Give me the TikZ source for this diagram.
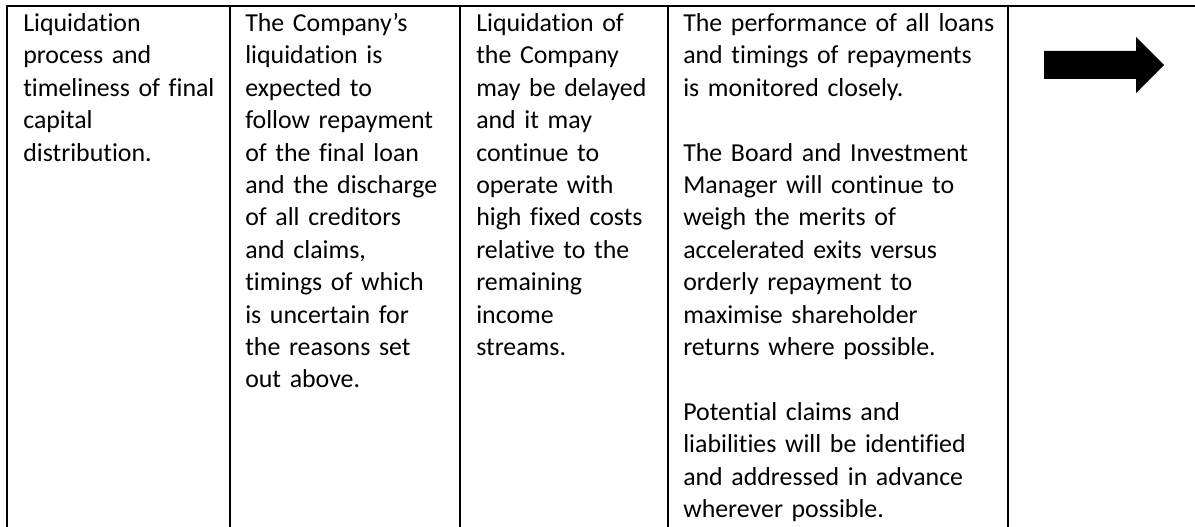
\documentclass[tikz,border=0pt]{standalone}
\usepackage{fontspec}
\setmainfont[Ligatures=NoCommon]{Carlito}
\begin{document}
\begin{tikzpicture}[x=0.75pt,y=-0.75pt,
  cell/.style={anchor=base west, inner sep=0pt, align=left, text width=270pt,
    font=\fontsize{19.4}{24.3}\selectfont},
  rule/.style={line width=1.5pt, black, line cap=rect},
  bigarrow/.style={fill=black, draw=none}]
\useasboundingbox (0,0) rectangle (1195,527);
% table rules
\draw[rule] (7,6) -- (1195,6);
\foreach \x in {7,230,460,668,1008} \draw[rule] (\x,6) -- (\x,530);
% cells
\node[cell] (c1) at (23,31.5) {Liquidation\\process and\\timeliness of final\\capital\\distribution.};
\node[cell] (c2) at (245,31.5) {The Company’s\\liquidation is\\expected to\\follow repayment\\of the final loan\\and the discharge\\of all creditors\\and claims,\\timings of which\\is uncertain for\\the reasons set\\out above.};
\node[cell] (c3) at (476,31.5) {Liquidation of\\the Company\\may be delayed\\and it may\\continue to\\operate with\\high fixed costs\\relative to the\\remaining\\income\\streams.};
\node[cell] (c4) at (683,31.5) {The performance of all loans\\and timings of repayments\\is monitored closely.\\[24.3pt]The Board and Investment\\Manager will continue to\\weigh the merits of\\accelerated exits versus\\orderly repayment to\\maximise shareholder\\returns where possible.\\[24.3pt]Potential claims and\\liabilities will be identified\\and addressed in advance\\wherever possible.};
% arrow
\fill[bigarrow] (1044,51) -- (1136,51) -- (1136,37) -- (1164,65) -- (1136,93) -- (1136,79) -- (1044,79) -- cycle;
\end{tikzpicture}
\end{document}
